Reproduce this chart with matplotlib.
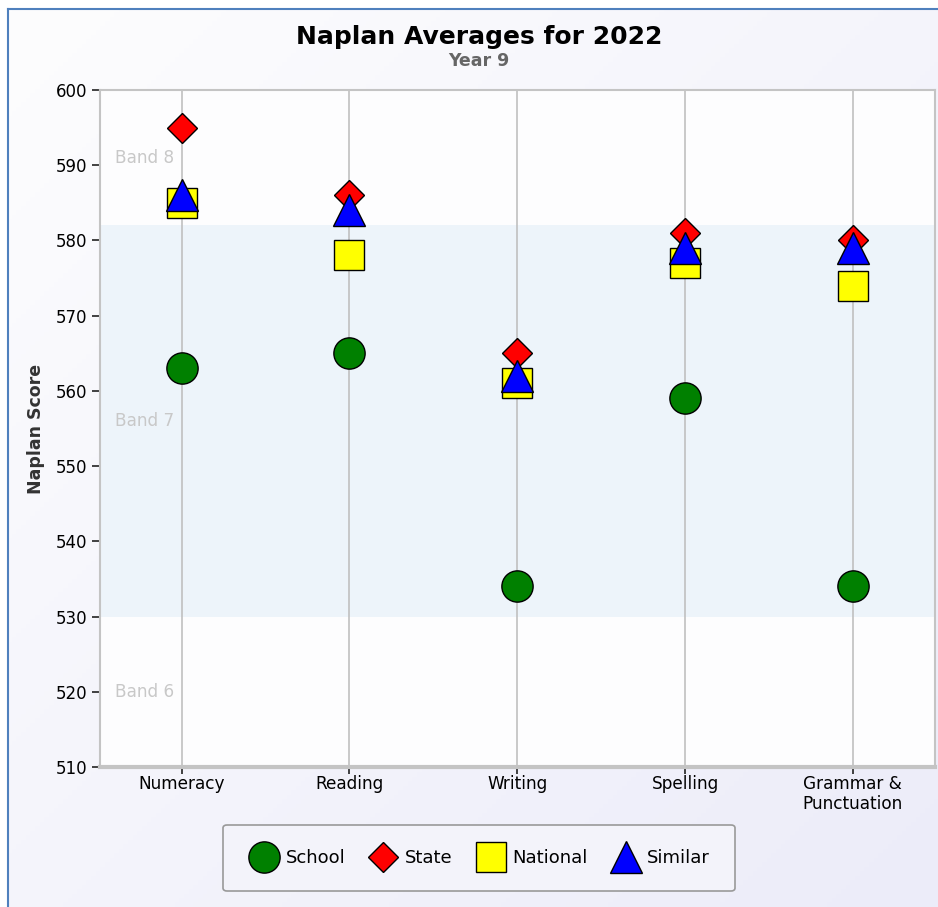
import numpy as np
import matplotlib
matplotlib.use('Agg')
import matplotlib.pyplot as plt
from matplotlib.patches import Rectangle
from matplotlib.lines import Line2D
import matplotlib.transforms as mtransforms

plt.rcParams['font.family'] = ['DejaVu Sans']

# data
categories = ['Numeracy', 'Reading', 'Writing', 'Spelling', 'Grammar &\nPunctuation']
school = [563, 565, 534, 559, 534]
state = [595, 586, 565, 581, 580]
national = [585, 578, 561, 577, 574]
similar = [586, 584, 562, 579, 579]

band_lo = [510, 530, 582]
band_hi = [530, 582, 600]
band_names = ['Band 6', 'Band 7', 'Band 8']
band_fill = ['none', '#edf4fa', 'none']

W, H = 938, 907
fig = plt.figure(figsize=(W / 100, H / 100), dpi=100, facecolor='white')

# gradient background + blue frame
bg = fig.add_axes([7 / W, 0, 1 - 7 / W, 1 - 8 / H], zorder=-10)
gx, gy = np.meshgrid(np.linspace(0, 1, 200), np.linspace(0, 1, 200))
t = (gx + gy) / 2
c0 = np.array([253, 253, 254]) / 255
c1 = np.array([236, 236, 249]) / 255
img = c0[None, None, :] * (1 - t[..., None]) + c1[None, None, :] * t[..., None]
bg.imshow(img, aspect='auto', extent=[0, 1, 0, 1], origin='upper')
bg.set_xlim(0, 1)
bg.set_ylim(0, 1)
bg.axis('off')
fig.add_artist(Line2D([7.5 / W, 7.5 / W], [0, 1 - 8.5 / H], color='#4f80bd', lw=1.5))
fig.add_artist(Line2D([7.5 / W, 1], [1 - 8.5 / H, 1 - 8.5 / H], color='#4f80bd', lw=1.5))

ax = fig.add_axes([100 / W, 140 / H, 835 / W, 677 / H])
ax.set_facecolor('#fdfdfe')
x = np.arange(len(categories))
ax.set_xlim(-0.487, 4.49)
ax.set_ylim(510, 600)

trans = mtransforms.blended_transform_factory(ax.transAxes, ax.transData)
for lo, hi, name, fc in zip(band_lo, band_hi, band_names, band_fill):
    if fc != 'none':
        ax.add_patch(Rectangle((0, lo), 1, hi - lo, transform=trans, facecolor=fc,
                               edgecolor='none', zorder=0))
    ax.text(0.018, (lo + hi) / 2, name, transform=trans, color='#c8c8c8',
            fontsize=12.2, va='center', ha='left', zorder=1)

for xi in x:
    ax.axvline(xi, color='#c0c0c0', lw=1.2, zorder=1)

ax.plot(x, school, 'o', ms=22.5, mfc='#008000', mec='black', mew=1.0, ls='none',
        label='School', zorder=3)
ax.plot(x, state, 'D', ms=15.5, mfc='#ff0000', mec='black', mew=1.0, ls='none',
        label='State', zorder=4)
ax.plot(x, national, 's', ms=21.5, mfc='#ffff00', mec='black', mew=1.0, ls='none',
        label='National', zorder=5)
ax.plot(x, similar, '^', ms=22.5, mfc='#0000ff', mec='black', mew=1.0, ls='none',
        label='Similar', zorder=6)

ax.set_xticks(x)
ax.set_xticklabels(categories, fontsize=12.2, linespacing=1.15)
ax.set_yticks(np.arange(510, 601, 10))
ax.tick_params(axis='y', labelsize=12, length=6, width=1.2, color='#222222', pad=3)
ax.tick_params(axis='x', length=5, width=1.2, color='#222222', pad=1)

for s in ['top', 'right', 'left']:
    ax.spines[s].set_color('#c4c4c4')
    ax.spines[s].set_linewidth(1.5)
ax.spines['bottom'].set_color('#c4c4c4')
ax.spines['bottom'].set_linewidth(3)

ax.set_ylabel('Naplan Score', fontsize=12.5, fontweight='bold', color='#333333',
              labelpad=8)

fig.text(479 / W, 1 - 37 / H, 'Naplan Averages for 2022', ha='center', va='center',
         fontsize=18, fontweight='bold', color='black')
fig.text(479 / W, 1 - 61 / H, 'Year 9', ha='center', va='center',
         fontsize=12.5, fontweight='bold', color='#666666')

leg = ax.legend(loc='center', bbox_to_anchor=(479 / W, 1 - 858 / H),
                bbox_transform=fig.transFigure, ncol=4, fontsize=13,
                frameon=True, fancybox=True, edgecolor='#999999', facecolor='#f3f3fa',
                framealpha=1, borderpad=1.35, handlelength=1.8, handletextpad=0.3,
                columnspacing=1.2, numpoints=1)
leg.get_frame().set_linewidth(1.2)

fig.savefig('out.png', dpi=100, facecolor=fig.get_facecolor())
